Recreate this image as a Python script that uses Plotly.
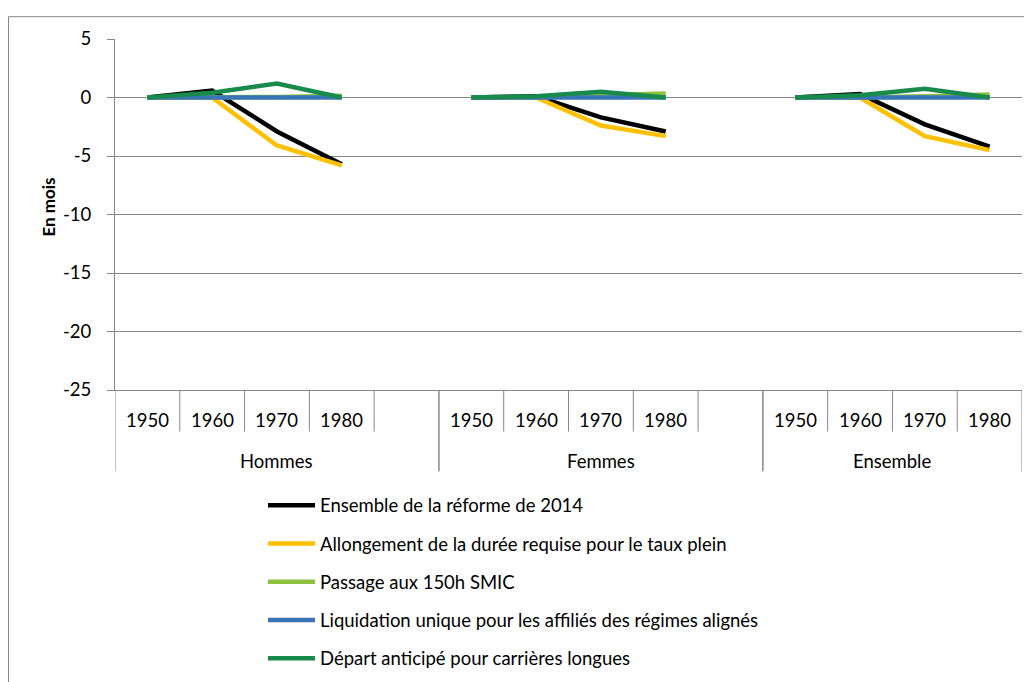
import plotly.graph_objects as go

# ---- data ----
groups = ["Hommes", "Femmes", "Ensemble"]
years = ["1950", "1960", "1970", "1980"]
series_names = [
    "Ensemble de la réforme de 2014",
    "Allongement de la durée requise pour le taux plein",
    "Passage aux 150h SMIC",
    "Liquidation unique pour les affiliés des régimes alignés",
    "Départ anticipé pour carrières longues",
]
# values per group: Hommes 1950..1980, Femmes 1950..1980, Ensemble 1950..1980 (months)
ensemble_reforme = [0, 0.6, -2.9, -5.7, 0, 0.1, -1.7, -2.9, 0, 0.3, -2.3, -4.2]
allongement = [0, 0, -4.1, -5.8, 0, 0, -2.4, -3.3, 0, 0, -3.3, -4.5]
passage_150h = [0, 0, 0.05, 0.15, 0, 0, 0.2, 0.35, 0, 0, 0.1, 0.25]
liquidation_unique = [0, 0, 0, 0, 0, 0, 0, 0, 0, 0, 0, 0]
depart_anticipe = [0, 0.4, 1.2, 0, 0, 0.1, 0.5, 0, 0, 0.2, 0.75, 0]
colors = ["#000000", "#FFC000", "#8DC13F", "#3A74B8", "#188A4B"]
y_ticks = [5, 0, -5, -10, -15, -20, -25]

FONT = "Lato"
FS = 18.5
GRID = "#878787"

W, H = 1032, 682


def fx(sx):  # screen x -> figure x (page body margin 8px)
    return sx - 8


def fy(sy):  # screen y -> figure y
    return sy - 8


ml = fx(115)
mt = fy(39)
mr = W - fx(1022)
mb = H - fy(393)
pw, ph = W - ml - mr, H - mt - mb


def px(sx):
    return (fx(sx) - ml) / pw


def py(sy):
    return (H - mb - fy(sy)) / ph


def pfx(fxv):
    return (fxv - ml) / pw


def pfy(fyv):
    return (H - mb - fyv) / ph


slots_per_group = len(years) + 1
all_series = [ensemble_reforme, allongement, passage_150h, liquidation_unique, depart_anticipe]

fig = go.Figure()
for name, vals, col in zip(series_names, all_series, colors):
    xs, ys = [], []
    for g in range(len(groups)):
        for i in range(len(years)):
            xs.append(g * slots_per_group + i)
            ys.append(vals[g * len(years) + i])
        xs.append(None)
        ys.append(None)
    fig.add_trace(go.Scatter(x=xs, y=ys, mode="lines", name=name,
                             line=dict(color=col, width=4.5),
                             legendgroup=name, connectgaps=False))

n_slots = len(groups) * slots_per_group - 1
x_lo, x_hi = -0.5, n_slots - 0.5

shapes = []
annotations = []
# outer chart border (kept inside the figure)
shapes.append(dict(type="rect", xref="paper", yref="paper",
                   x0=pfx(0.5), x1=pfx(W - 0.5), y0=pfy(H - 0.5), y1=pfy(8.5),
                   line=dict(color=GRID, width=1), fillcolor="rgba(0,0,0,0)", layer="below"))
# category separators and labels
for g in range(len(groups)):
    base = g * slots_per_group
    for i in range(1, len(years) + 1):
        xb = base + i - 0.5
        if g == len(groups) - 1 and i == len(years):
            continue
        shapes.append(dict(type="line", xref="x", yref="paper", x0=xb, x1=xb,
                           y0=0, y1=py(435), line=dict(color=GRID, width=1)))
    longs = [base - 0.5] + ([base + slots_per_group - 0.5] if g < len(groups) - 1 else [x_hi])
    for xb in longs:
        shapes.append(dict(type="line", xref="x", yref="paper", x0=xb, x1=xb,
                           y0=0, y1=py(475), line=dict(color=GRID, width=1)))
    for i, yr in enumerate(years):
        annotations.append(dict(x=base + i, y=py(423), xref="x", yref="paper", text=yr,
                                showarrow=False, font=dict(family=FONT, size=FS, color="black"),
                                xanchor="center", yanchor="middle"))
    if g < len(groups) - 1:
        gc = base + (slots_per_group - 1) / 2
    else:
        gc = (base - 0.5 + x_hi) / 2
    annotations.append(dict(x=gc, y=py(465), xref="x", yref="paper", text=groups[g],
                            showarrow=False, font=dict(family=FONT, size=FS, color="black"),
                            xanchor="center", yanchor="middle"))

annotations.append(dict(x=px(49), y=py(209), xref="paper", yref="paper", text="<b>En mois</b>",
                        textangle=-90, showarrow=False,
                        font=dict(family=FONT, size=17, color="black"),
                        xanchor="center", yanchor="middle"))

fig.update_layout(
    width=W, height=H,
    margin=dict(l=ml, r=mr, t=mt, b=mb, pad=0),
    paper_bgcolor="white", plot_bgcolor="white",
    font=dict(family=FONT, size=FS, color="black"),
    showlegend=True,
    legend=dict(x=px(263), y=pfy(482.5), xanchor="left", yanchor="top",
                orientation="v", traceorder="grouped", tracegroupgap=11.2,
                font=dict(family=FONT, size=FS, color="black"),
                bgcolor="rgba(0,0,0,0)", itemwidth=47),
    xaxis=dict(range=[x_lo, x_hi], showgrid=False, zeroline=False, showticklabels=False,
               ticks="", showline=True, linecolor=GRID, linewidth=1, fixedrange=True),
    yaxis=dict(range=[-25, 5], tickvals=y_ticks, ticktext=[str(v) for v in y_ticks],
               showgrid=True, gridcolor=GRID, gridwidth=1, zeroline=False,
               showline=True, linecolor=GRID, linewidth=1, ticks="outside", ticklen=7,
               tickcolor=GRID, ticklabelstandoff=12,
               tickfont=dict(family=FONT, size=FS, color="black")),
    shapes=shapes, annotations=annotations,
)

fig.write_html("out.html")
